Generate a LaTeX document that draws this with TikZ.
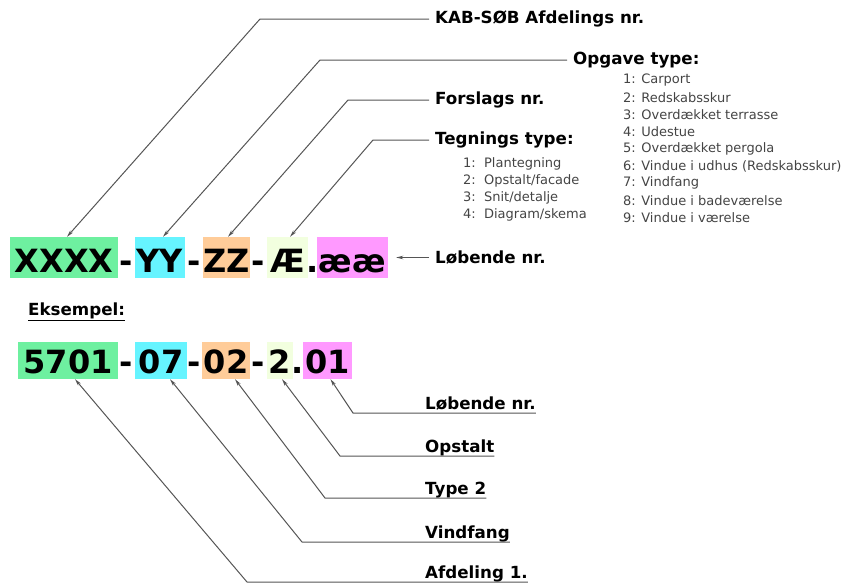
\documentclass[tikz,border=0pt]{standalone}
\usepackage{fontspec}
\setmainfont{DejaVu Sans}
\usetikzlibrary{arrows.meta,calc}
\definecolor{cgreen}{HTML}{6EF0A0}
\definecolor{ccyan}{HTML}{66F4FF}
\definecolor{cpeach}{HTML}{FFCC99}
\definecolor{cyel}{HTML}{F2FFDF}
\definecolor{cpink}{HTML}{FF99FF}
\definecolor{lin}{HTML}{555555}
\definecolor{listc}{HTML}{444444}
\begin{document}
\begin{tikzpicture}[x=1pt,y=-1pt,
 code/.style={font=\fontsize{32}{32}\bfseries, inner xsep=0pt, inner ysep=0pt, anchor=base, text height=35pt, text depth=6pt},
 codeb/.style={code, text height=31pt, text depth=6pt},
 lab/.style={font=\fontsize{16.7}{20}\bfseries, anchor=west, inner xsep=6pt, inner ysep=1pt},
 item/.style={font=\fontsize{13}{15}\selectfont, text=listc, anchor=west, inner sep=0pt},
 blab/.style={font=\fontsize{16.7}{20}\bfseries, anchor=base west, inner sep=0pt},
 con/.style={draw=lin, line width=1pt},
 arr/.style={con, -{Stealth[length=7pt,width=3.5pt]}}
]
\path[use as bounding box] (0,0) rectangle (849,584);

% top code
\node[code, fill=cgreen, minimum width=108pt] (tg) at (64,272) {XXXX};
\node[code] (td1) at (126.5,272) {-};
\node[code, fill=ccyan, minimum width=50pt] (ty) at (160,272) {YY};
\node[code] (td2) at (194,272) {-};
\node[code, fill=cpeach, minimum width=47pt] (tz) at (226.5,272) {ZZ};
\node[code] (td3) at (258.5,272) {-};
\node[code, fill=cyel, minimum width=41pt] (tae) at (287.5,272) {Æ};
\node[code] (tdot) at (312.5,272) {.};
\node[code, fill=cpink, minimum width=71pt] (tp) at (352.5,272) {ææ};

% top labels
\node[lab] (lkab) at (429,19) {KAB-SØB Afdelings nr.};
\node[lab] (lopg) at (567,60) {Opgave type:};
\node[lab] (lfor) at (429,100) {Forslags nr.};
\node[lab] (lteg) at (429,140) {Tegnings type:};
\node[lab] (llob) at (429,257.5) {Løbende nr.};

\coordinate (c1) at (260,19);
\coordinate (c2) at (320,60);
\coordinate (c3) at (348,100);
\coordinate (c4) at (373,140);
\draw[arr] (lkab.west) -- (c1) -- ([xshift=3pt]tg.north);
\draw[arr] (lopg.west) -- (c2) -- ([xshift=3pt]ty.north);
\draw[arr] (lfor.west) -- (c3) -- ([xshift=1.5pt]tz.north);
\draw[arr] (lteg.west) -- (c4) -- ([xshift=2.5pt]tae.north);
\draw[arr] (llob.west) -- ([xshift=8pt]tp.east);

% lists
\foreach [count=\i] \t in {1:\ \ Plantegning, 2:\ \ Opstalt/facade, 3:\ \ Snit/detalje, 4:\ \ Diagram/skema}
  \node[item] (t\i) at (463,{164+17*(\i-1)}) {\t};
\foreach [count=\i] \t in {1: Carport, 2: Redskabsskur, 3: Overdækket terrasse, 4: Udestue, 5: Overdækket pergola, 6: Vindue i udhus (Redskabsskur), 7: Vindfang, 8: Vindue i badeværelse, 9: Vindue i værelse}
  \node[item] (o\i) at (623,{80+17.2*(\i-1)}) {\t};

% example
\node[font=\fontsize{16.7}{20}\bfseries, anchor=west, inner sep=0pt] (eks) at (28,312) {\underline{Eksempel:}};

\node[codeb, fill=cgreen, minimum width=100pt] (bg) at (68,373) {5701};
\node[codeb] (bd1) at (126.5,373) {-};
\node[codeb, fill=ccyan, minimum width=52pt] (by) at (161,373) {07};
\node[codeb] (bd2) at (194.5,373) {-};
\node[codeb, fill=cpeach, minimum width=48pt] (bz) at (226,373) {02};
\node[codeb] (bd3) at (258.5,373) {-};
\node[codeb, fill=cyel, minimum width=26pt] (bae) at (280,373) {2};
\node[codeb] (bdot) at (298,373) {.};
\node[codeb, fill=cpink, minimum width=49pt] (bp) at (327.5,373) {01};

% bottom labels
\node[blab] (bl5) at (425,409) {Løbende nr.};
\node[blab] (bl4) at (425,452) {Opstalt};
\node[blab] (bl3) at (425,494) {Type 2};
\node[blab] (bl2) at (425,538) {Vindfang};
\node[blab] (bl1) at (425,578) {Afdeling 1.};

\coordinate (k5) at (353,413);
\coordinate (k4) at (340,456);
\coordinate (k3) at (325,498);
\coordinate (k2) at (302,542);
\coordinate (k1) at (247,582);
\draw[arr] (bl5.base east |- k5) -- (k5) -- ([xshift=3pt]bp.south);
\draw[arr] (bl4.base east |- k4) -- (k4) -- ([xshift=2pt]bae.south);
\draw[arr] (bl3.base east |- k3) -- (k3) -- ([xshift=9pt]bz.south);
\draw[arr] (bl2.base east |- k2) -- (k2) -- ([xshift=9pt]by.south);
\draw[arr] (bl1.base east |- k1) -- (k1) -- ([xshift=7pt]bg.south);
\end{tikzpicture}
\end{document}
